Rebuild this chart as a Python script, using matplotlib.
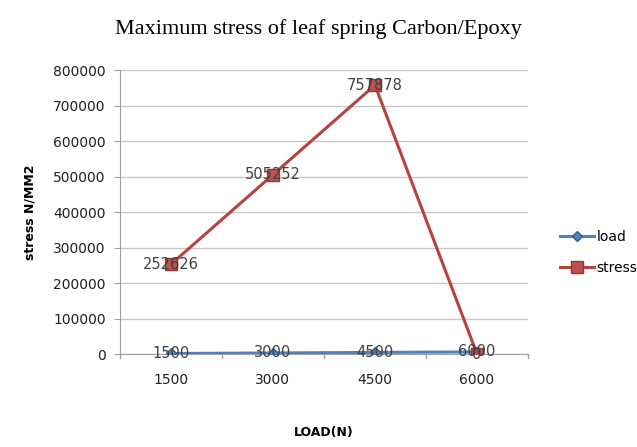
import matplotlib
matplotlib.use("Agg")
import matplotlib.pyplot as plt
import numpy as np

categories = ["1500", "3000", "4500", "6000"]
load = [1500, 3000, 4500, 6000]
stress = [252626, 505252, 757878, 0]
yticks = [0, 100000, 200000, 300000, 400000, 500000, 600000, 700000, 800000]

fig = plt.figure(figsize=(6.37, 4.47), dpi=100)
ax = fig.add_axes([0.188, 0.208, 0.641, 0.635])

x = np.arange(len(categories))

# series
ax.plot(x, load, color="#4F81BD", lw=2.2, marker="D", ms=5,
        mfc="#4F81BD", mec="#385D8A", label="load", zorder=3)
ax.plot(x, stress, color="#B8423F", lw=2.2, marker="s", ms=8,
        mfc="#C0504D", mec="#8C3836", label="stress", zorder=3)

# data labels
for xi, v in zip(x, load):
    ax.text(xi, v, f"{v}", ha="center", va="center", fontsize=10.5, color="#404040", zorder=4)
for xi, v in zip(x, stress):
    ax.text(xi, v, f"{v}", ha="center", va="center", fontsize=10.5, color="#404040", zorder=4)

ax.set_xlim(-0.5, len(categories) - 0.5)
ax.set_ylim(0, 800000)
ax.set_yticks(yticks)
ax.set_yticklabels([str(t) for t in yticks], fontsize=10, color="#202020")
ax.set_xticks(x)
ax.set_xticklabels(categories, fontsize=10, color="#202020")
ax.tick_params(axis="x", length=0, pad=14)
ax.tick_params(axis="y", length=4, color="#a0a0a0", pad=6)

# category boundary ticks like excel
for b in np.arange(-0.5, len(categories), 1.0):
    ax.plot([b, b], [0, -12000], color="#a0a0a0", lw=1, clip_on=False)

ax.grid(axis="y", color="#c8c8c8", lw=1)
ax.set_axisbelow(True)
for s in ["top", "right"]:
    ax.spines[s].set_visible(False)
ax.spines["left"].set_color("#a0a0a0")
ax.spines["bottom"].set_color("#a0a0a0")

ax.set_ylabel("stress N/MM2", fontsize=9, fontweight="bold", labelpad=12)
ax.set_xlabel("LOAD(N)", fontsize=9, fontweight="bold", labelpad=28)
fig.text(0.5, 0.935, "Maximum stress of leaf spring Carbon/Epoxy",
         ha="center", va="center", fontsize=16, family="Liberation Serif")

leg = fig.legend(loc="center left", bbox_to_anchor=(0.86, 0.435), frameon=False,
                 fontsize=10, handlelength=2.4, labelspacing=1.2, handletextpad=0.2)

fig.savefig("out.png", dpi=100)
